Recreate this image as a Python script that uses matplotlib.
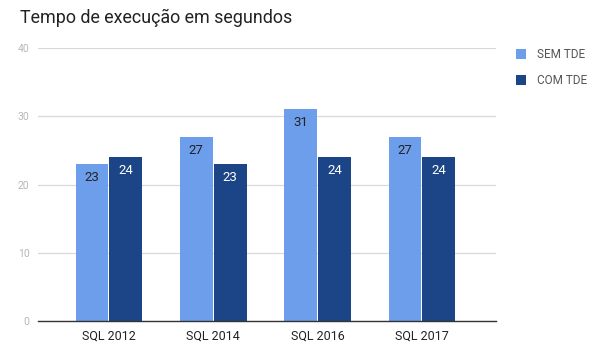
import matplotlib.pyplot as plt
import numpy as np

plt.rcParams['font.family'] = ['Roboto', 'DejaVu Sans']

categories = ['SQL 2012', 'SQL 2014', 'SQL 2016', 'SQL 2017']
sem_tde = [23, 27, 31, 27]
com_tde = [24, 23, 24, 24]
series_names = ['SEM TDE', 'COM TDE']
colors = ['#6d9eeb', '#1c4587']

fig = plt.figure(figsize=(6.06, 3.52), dpi=100)
ax = fig.add_axes([0.0627, 0.088, 0.7558, 0.7756])

x = np.arange(len(categories))
w = 0.315
bars1 = ax.bar(x - w/2 - 0.005, sem_tde, w, color=colors[0], label=series_names[0], zorder=3)
bars2 = ax.bar(x + w/2 + 0.005, com_tde, w, color=colors[1], label=series_names[1], zorder=3)

# value labels inside the top of each bar
for bars, tc in [(bars1, '#222222'), (bars2, '#ffffff')]:
    for b in bars:
        ax.annotate(f'{int(b.get_height())}',
                    xy=(b.get_x() + b.get_width()/2, b.get_height()),
                    xytext=(0, -5), textcoords='offset points',
                    ha='center', va='top', fontsize=9.5, color=tc, zorder=4)

ax.set_ylim(0, 40)
ax.set_xlim(-0.68, 3.71)
ax.set_yticks([0, 10, 20, 30, 40])
ax.set_xticks(x)
ax.set_xticklabels(categories, fontsize=9, color='#222222')
ax.tick_params(axis='y', labelsize=7.5, labelcolor='#b7b7b7', length=0, pad=6)
ax.tick_params(axis='x', length=0, pad=6)
ax.grid(True, axis='y', color='#d9d9d9', linewidth=0.9, zorder=0)
for s in ['top', 'right', 'left']:
    ax.spines[s].set_visible(False)
ax.spines['bottom'].set_color('#333333')
ax.spines['bottom'].set_linewidth(1.0)
ax.spines['bottom'].set_zorder(5)

fig.text(0.033, 0.948, 'Tempo de execução em segundos', fontsize=12.9,
         color='#222222', ha='left', va='center')

leg = ax.legend(loc='upper left', bbox_to_anchor=(1.02, 1.04), frameon=False,
                fontsize=8.5, handlelength=0.9, handleheight=0.9,
                labelspacing=1.1, handletextpad=0.9, labelcolor='#555555')

fig.savefig('out.png', dpi=100)
